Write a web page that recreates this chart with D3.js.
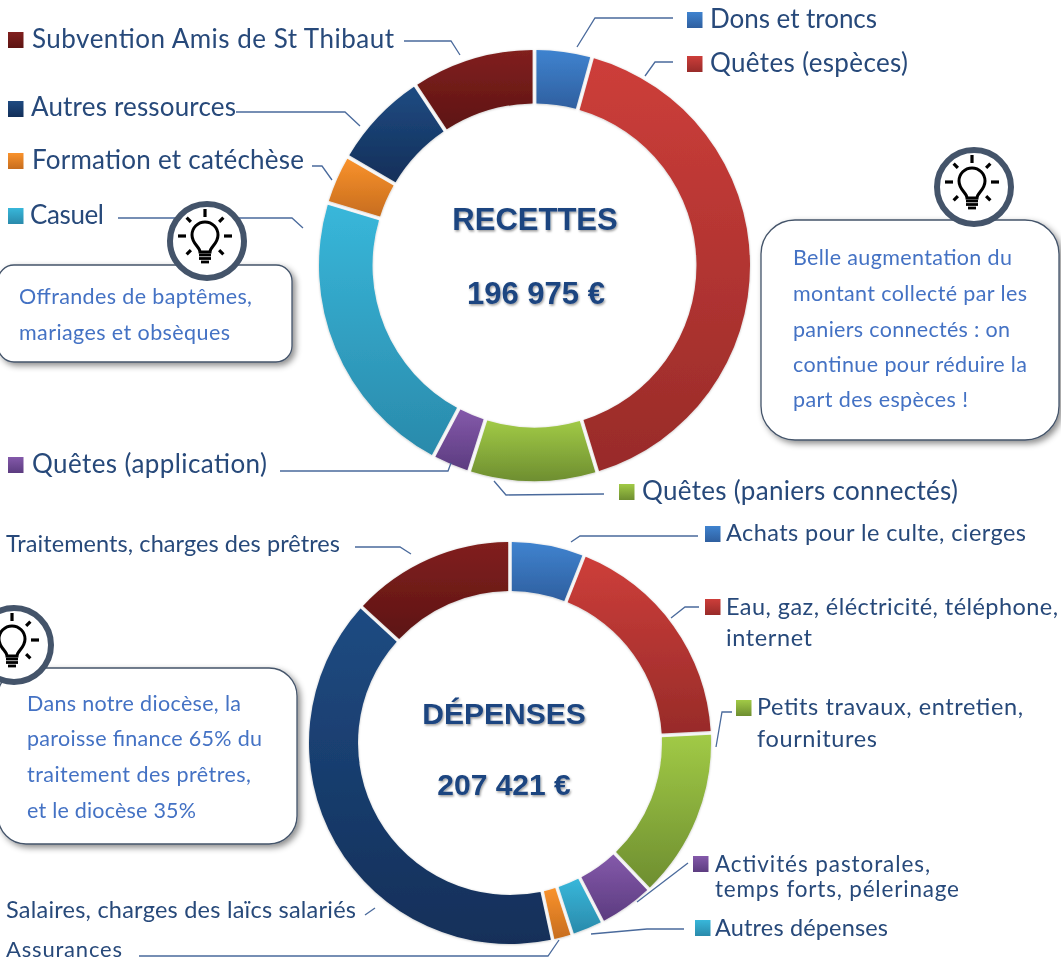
<!DOCTYPE html>
<html lang="fr">
<head>
<meta charset="utf-8">
<script src="https://cdn.jsdelivr.net/npm/d3@7"></script>
<style>
  html, body { margin: 0; padding: 0; background: #fff; overflow: hidden; }
  svg { display: block; filter: blur(0.35px); }
  .label { font-family: Lato, "Open Sans", sans-serif; fill: #27497a; }
  .note { font-family: Lato, "Open Sans", sans-serif; fill: #4472c4; font-size: 21.5px; }
  .big { font-family: "Liberation Sans", Arial, sans-serif; font-weight: bold; fill: #1b4480; text-anchor: middle; }
</style>
</head>
<body>
<div id="chart"></div>
<script>
// shares of each total in %, clockwise from 12 o'clock
const recettesCategories = ["Dons et troncs", "Quêtes (espèces)", "Quêtes (paniers connectés)", "Quêtes (application)", "Casuel", "Formation et catéchèse", "Autres ressources", "Subvention Amis de St Thibaut"]
const recettesValues = [4.3, 41.0, 9.6, 2.85, 21.95, 3.7, 7.3, 9.3]
const depensesCategories = ["Achats pour le culte, cierges", "Eau, gaz, éléctricité, téléphone, internet", "Petits travaux, entretien, fournitures", "Activités pastorales, temps forts, pélerinage", "Autres dépenses", "Assurances", "Salaires, charges des laïcs salariés", "Traitements, charges des prêtres"]
const depensesValues = [6.0, 18.2, 13.7, 4.5, 2.6, 1.6, 40.2, 13.2]
const sliceColors = [["#3f83cf", "#2f5f9f"], ["#cd3e3a", "#982b29"], ["#a1ca46", "#6e8e30"], ["#8459aa", "#5c3c80"], ["#38b7da", "#2a8aab"], ["#f9922c", "#c76d1e"], ["#1f4b82", "#122f59"], ["#81201f", "#5d1412"]]

const width = 1061, height = 962
const svg = d3.select("#chart").append("svg").attr("width", width).attr("height", height)
const defs = svg.append("defs")

const boxShadow = defs.append("filter").attr("id", "boxShadow").attr("x", "-10%").attr("y", "-10%").attr("width", "125%").attr("height", "125%")
boxShadow.append("feDropShadow").attr("dx", 3).attr("dy", 3).attr("stdDeviation", 3).attr("flood-color", "#000").attr("flood-opacity", 0.45)
const textShadow = defs.append("filter").attr("id", "textShadow").attr("x", "-10%").attr("y", "-20%").attr("width", "120%").attr("height", "150%")
textShadow.append("feDropShadow").attr("dx", 1).attr("dy", 1.5).attr("stdDeviation", 1.2).attr("flood-color", "#000").attr("flood-opacity", 0.4)
const ringShadow = defs.append("filter").attr("id", "ringShadow").attr("x", "-5%").attr("y", "-5%").attr("width", "110%").attr("height", "110%")
ringShadow.append("feDropShadow").attr("dx", 0).attr("dy", 0.5).attr("stdDeviation", 1).attr("flood-color", "#000").attr("flood-opacity", 0.25)

sliceColors.forEach((c, i) => {
    const g = defs.append("linearGradient").attr("id", "slice" + i).attr("x1", 0).attr("y1", 0).attr("x2", 0).attr("y2", 1)
    g.append("stop").attr("offset", "0%").attr("stop-color", c[0])
    g.append("stop").attr("offset", "100%").attr("stop-color", c[1])
})

function drawDonut(values, cx, cy, outer, inner, center, titleSize) {
    const pie = d3.pie().sort(null).value(d => d)
    // padRadius keeps the white gap between slices the same width across the ring
    const arc = d3.arc().innerRadius(inner).outerRadius(outer).padRadius(outer).padAngle(0.018)
    const g = svg.append("g").attr("transform", `translate(${cx},${cy})`)
    g.selectAll("path")
        .data(pie(values))
        .enter()
        .append("path")
        .attr("d", arc)
        .attr("fill", (d, i) => `url(#slice${i})`)
        .attr("filter", "url(#ringShadow)")
    center.forEach(t => {
        svg.append("text").attr("class", "big").attr("x", t[1]).attr("y", t[2])
            .attr("font-size", titleSize).attr("filter", "url(#textShadow)").text(t[0])
    })
}

drawDonut(recettesValues, 534.5, 265.5, 215.5, 162, [["RECETTES", 535, 230], ["196 975 €", 536, 304]], 31)
drawDonut(depensesValues, 510, 743, 201, 152, [["DÉPENSES", 504, 724], ["207 421 €", 504, 795]], 30)

// leader lines
const leaders = [
    [[404, 41], [451, 41], [460, 55]],
    [[236, 112], [345, 112], [360, 126]],
    [[312, 166], [322, 166], [332, 180]],
    [[118, 218], [292, 218], [303, 228]],
    [[577, 47], [595, 18], [673, 18]],
    [[645, 76], [655, 62], [673, 62]],
    [[280, 471], [448, 471], [451, 463]],
    [[494, 481], [506, 495], [604, 494]],
    [[355, 547], [400, 547], [411, 554]],
    [[365, 915], [375, 908]],
    [[139, 956], [548, 956], [559, 940]],
    [[571, 542], [580, 536], [698, 536]],
    [[671, 618], [685, 607], [699, 607]],
    [[716, 747], [722, 712], [732, 712]],
    [[637, 902], [688, 863]],
    [[591, 934], [647, 929], [684, 929]]
]
const line = d3.line()
svg.append("g").selectAll("path").data(leaders).enter().append("path")
    .attr("d", d => line(d))
    .attr("fill", "none").attr("stroke", "#4a6a9c").attr("stroke-width", 1.3)

// text, swatch: [x, y, colour index], lines: [text, x, baseline, width]
const labelSize = 26, labelSizeSmall = 23.5
const labels = [
    { size: labelSize, sw: [8, 32, 7], lines: [[recettesCategories[7], 32, 48, 362]] },
    { size: labelSize, sw: [8, 101, 6], lines: [[recettesCategories[6], 31, 116, 205]] },
    { size: labelSize, sw: [8, 153, 5], lines: [[recettesCategories[5], 32, 169, 272]] },
    { size: labelSize, sw: [8, 208, 4], lines: [[recettesCategories[4], 30, 224, 74]] },
    { size: labelSize, sw: [687, 12, 0], lines: [[recettesCategories[0], 710, 28, 167]] },
    { size: labelSize, sw: [687, 56, 1], lines: [[recettesCategories[1], 710, 72, 198]] },
    { size: labelSize, sw: [8, 457, 3], lines: [[recettesCategories[3], 32, 473, 235]] },
    { size: labelSize, sw: [619, 484, 2], lines: [[recettesCategories[2], 642, 500, 316]] },
    { size: labelSizeSmall, lines: [[depensesCategories[7], 6, 552, 334]] },
    { size: labelSizeSmall, sw: [705, 526, 0], lines: [[depensesCategories[0], 726, 541, 300]] },
    { size: labelSizeSmall, sw: [705, 599, 1], lines: [["Eau, gaz, éléctricité, téléphone,", 726, 615, 332], ["internet", 726, 646, 86]] },
    { size: labelSizeSmall, sw: [736, 700, 2], lines: [["Petits travaux, entretien,", 757, 715, 266], ["fournitures", 757, 747, 120]] },
    { size: 22.5, sw: [693, 856, 3], lines: [["Activités pastorales,", 715, 872, 215], ["temps forts, pélerinage", 715, 897, 244]] },
    { size: labelSizeSmall, sw: [695, 920, 4], lines: [[depensesCategories[4], 715, 936, 173]] },
    { size: labelSizeSmall, lines: [[depensesCategories[6], 6, 918, 350]] },
    { size: 22, lines: [[depensesCategories[5], 6, 957, 116]] }
]
labels.forEach(l => {
    if (l.sw) {
        svg.append("rect").attr("x", l.sw[0]).attr("y", l.sw[1]).attr("width", 15.5).attr("height", 16)
            .attr("fill", `url(#slice${l.sw[2]})`)
    }
    l.lines.forEach(t => {
        svg.append("text").attr("class", "label").attr("x", t[1]).attr("y", t[2])
            .attr("font-size", l.size).attr("textLength", t[3]).attr("lengthAdjust", "spacing").text(t[0])
    })
})

// callout boxes with the light bulb
const notes = [
    { box: [-2, 265, 294, 97, 16], bulb: [207, 241], x: 19, lines: [["Offrandes de baptêmes,", 304, 233], ["mariages et obsèques", 340, 211]] },
    { box: [761, 220, 298, 220, 34], bulb: [974, 187], x: 793, lines: [["Belle augmentation du", 265, 219], ["montant collecté par les", 301, 234], ["paniers connectés : on", 337, 217], ["continue pour réduire la", 372, 234], ["part des espèces !", 407, 175]] },
    { box: [-2, 668, 299, 176, 28], bulb: [14, 645], x: 27, lines: [["Dans notre diocèse, la", 711, 214], ["paroisse finance 65% du", 746, 235], ["traitement des prêtres,", 782, 224], ["et le diocèse 35%", 818, 169]] }
]
const rayAngles = [-135, -90, -45, 0, 180, 45, 135]
notes.forEach(n => {
    svg.append("rect").attr("x", n.box[0]).attr("y", n.box[1]).attr("width", n.box[2]).attr("height", n.box[3]).attr("rx", n.box[4])
        .attr("fill", "#fff").attr("stroke", "#44546a").attr("stroke-width", 1.3).attr("filter", "url(#boxShadow)")
    n.lines.forEach(t => {
        svg.append("text").attr("class", "note").attr("x", n.x).attr("y", t[1])
            .attr("textLength", t[2]).attr("lengthAdjust", "spacing").text(t[0])
    })
    const b = svg.append("g").attr("transform", `translate(${n.bulb[0]},${n.bulb[1]})`)
    b.append("circle").attr("r", 37).attr("fill", "#fff").attr("stroke", "#44546a").attr("stroke-width", 6)
    b.append("path").attr("d", "M-5,11 C-5,6 -13,3 -13,-6 A13,13 0 1 1 13,-6 C13,3 5,6 5,11 Z")
        .attr("transform", "translate(-2,0)").attr("fill", "none").attr("stroke", "#000").attr("stroke-width", 3)
    b.selectAll("line.base").data([14, 17.5, 21]).enter().append("line")
        .attr("x1", d => d > 20 ? -6 : -8).attr("x2", d => d > 20 ? 2 : 4).attr("y1", d => d).attr("y2", d => d)
        .attr("stroke", "#000").attr("stroke-width", 2.8)
    b.selectAll("line.ray").data(rayAngles).enter().append("line")
        .each(function (a) {
            const rad = a * Math.PI / 180
            const diag = a !== 0 && a !== 180 && a !== -90
            const near = diag ? 20 : 19
            const far = diag ? 26 : 27
            d3.select(this)
                .attr("x1", -2 + near * Math.cos(rad)).attr("y1", -5 + near * Math.sin(rad))
                .attr("x2", -2 + far * Math.cos(rad)).attr("y2", -5 + far * Math.sin(rad))
        })
        .attr("stroke", "#000").attr("stroke-width", 3.2)
})
</script>
</body>
</html>
